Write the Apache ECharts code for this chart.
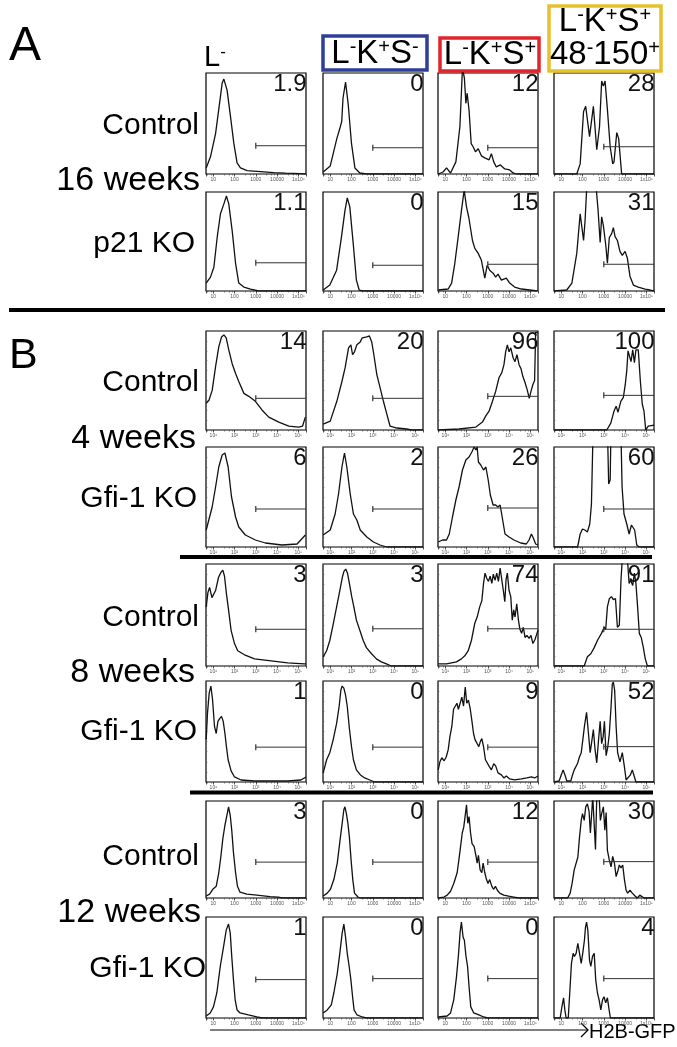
<!DOCTYPE html>
<html><head><meta charset="utf-8">
<script src="https://cdn.jsdelivr.net/npm/echarts@6/dist/echarts.min.js"></script>
<style>html,body{margin:0;padding:0;background:#fff}#c{width:677px;height:1047px}</style>
</head><body><div id="c"></div>
<script>
// ---------- tick labels (by decade exponent) ----------
const tickLabelsPlain = {1:'10', 2:'100', 3:'1000', 4:'10000', 5:'1x10⁵'};
const tickLabelsPow   = {1:'10¹', 2:'10²', 3:'10³', 4:'10⁴', 5:'10⁵'};

// ---------- column headers / row labels ----------
const columnHeaders = ['L-', 'L-K+S-', 'L-K+S+', 'L-K+S+ / 48-150+'];
const rowLabels = ['Control','16 weeks','p21 KO','Control','4 weeks','Gfi-1 KO','Control','8 weeks','Gfi-1 KO','Control','12 weeks','Gfi-1 KO'];

// ---------- percentages shown in each panel ----------
const pctA16Ctrl = ['1.9','0','12','28'];
const pctA16KO   = ['1.1','0','15','31'];
const pctB4Ctrl  = ['14','20','96','100'];
const pctB4KO    = ['6','2','26','60'];
const pctB8Ctrl  = ['3','3','74','91'];
const pctB8KO    = ['1','0','9','52'];
const pctB12Ctrl = ['3','0','12','30'];
const pctB12KO   = ['1','0','0','4'];

// ---------- gate heights (% of panel max) ----------
const gateA16Ctrl = [28,26,26,27];
const gateA16KO   = [28.5,26,27,27];
const gateB4Ctrl  = [32,32,34,35];
const gateB4KO    = [38,38,39,38];
const gateB8Ctrl  = [36,36.5,36.5,36];
const gateB8KO    = [34.5,34.5,34.5,35];
const gateB12Ctrl = [37,37,37,37.5];
const gateB12KO   = [38,39,39,39];
const gateStart = 1000;

// ---------- histograms: [log10 H2B-GFP, % of max] ----------
const hA16Ctrl_L = [[0.67,6],[0.87,17],[1.11,40],[1.26,64],[1.42,90],[1.50,94],[1.65,83],[1.81,57],[1.97,30],[2.12,11],[2.28,6],[2.59,3.3],[3.22,2.3],[3.84,1.3],[4.4,0.8],[5.09,0.3],[5.36,0]];
const hA16Ctrl_KS = [[0.67,2],[1.0,8],[1.31,35],[1.45,45],[1.54,52],[1.6,75],[1.72,91],[1.84,70],[2.0,30],[2.16,6],[2.39,1],[2.7,0],[5.36,0]];
const hA16Ctrl_LSK = [[0.67,0],[0.90,2],[1.06,6],[1.25,1],[1.50,12],[1.69,47],[1.81,105],[1.90,95],[1.97,70],[2.03,80],[2.12,63],[2.22,30],[2.31,27],[2.42,22],[2.55,25],[2.70,18],[2.86,16],[3.06,14],[3.17,20],[3.28,12],[3.40,7],[3.59,9],[3.80,5],[4.03,4],[4.19,1],[4.34,0],[5.36,0]];
const hA16Ctrl_SLAM = [[0.67,0],[1.73,0],[1.89,10],[2.05,62],[2.15,67],[2.33,37],[2.51,67],[2.67,24],[2.80,47],[2.90,92],[2.98,87],[3.06,92],[3.17,64],[3.30,27],[3.42,10],[3.48,12],[3.61,41],[3.70,35],[3.84,0],[5.36,0]];

const hA16KO_L = [[0.67,8],[0.87,14],[1.03,24],[1.19,55],[1.34,78],[1.50,88],[1.62,96],[1.73,88],[1.89,61],[2.05,28],[2.20,8],[2.44,4],[2.75,2],[3.14,0],[5.36,0]];
const hA16KO_KS = [[0.67,1],[0.98,6],[1.30,21],[1.53,55],[1.69,81],[1.80,94],[1.92,85],[2.08,48],[2.23,11],[2.36,1],[2.55,0],[5.36,0]];
const hA16KO_LSK = [[0.67,1],[1.14,2],[1.30,8],[1.45,28],[1.61,55],[1.76,81],[1.89,102],[2.00,85],[2.11,74],[2.19,72],[2.28,51],[2.39,43],[2.55,38],[2.70,31],[2.86,13],[2.97,26],[3.09,21],[3.25,18],[3.37,14],[3.48,17],[3.64,11],[3.87,13],[4.03,8],[4.26,4],[4.58,2],[4.97,1],[5.33,0]];
const hA16KO_SLAM = [[0.67,0],[1.26,1],[1.50,8],[1.73,38],[1.89,78],[1.97,80],[2.05,51],[2.12,71],[2.20,105],[2.64,105],[2.73,82],[2.83,49],[2.90,75],[2.98,66],[3.09,47],[3.17,28],[3.26,54],[3.37,58],[3.45,64],[3.53,55],[3.64,51],[3.76,40],[3.87,36],[4.00,40],[4.11,33],[4.23,15],[4.39,6],[4.62,4],[4.94,2],[5.17,1],[5.36,0]];

const hB4Ctrl_L = [[0.67,27],[0.80,30],[0.95,40],[1.11,64],[1.26,84],[1.39,94],[1.50,96],[1.61,93],[1.73,81],[1.89,67],[2.05,57],[2.20,49],[2.44,37],[2.67,34],[2.98,29],[3.30,20],[3.61,13],[4.08,8],[4.55,4],[5.02,3],[5.20,4],[5.33,13]];
const hB4Ctrl_KS = [[0.67,6],[1.0,9],[1.31,29],[1.55,49],[1.70,63],[1.86,83],[1.97,86],[2.05,76],[2.14,79],[2.25,86],[2.41,89],[2.50,93],[2.59,91],[2.72,94],[2.84,95],[2.95,89],[3.05,76],[3.19,56],[3.34,43],[3.50,29],[3.66,16],[3.81,4],[4.13,2],[4.59,1],[4.83,0],[5.36,0]];
const hB4Ctrl_LSK = [[0.67,0],[1.65,1],[2.44,3],[2.75,8],[2.90,14],[3.06,19],[3.22,29],[3.37,39],[3.53,53],[3.66,58],[3.76,66],[3.84,79],[3.92,86],[4.0,79],[4.08,83],[4.19,73],[4.28,69],[4.37,76],[4.47,66],[4.56,62],[4.65,54],[4.75,48],[4.86,40],[4.95,32],[5.03,39],[5.12,46],[5.20,50],[5.25,99],[5.36,98]];
const hB4Ctrl_SLAM = [[0.67,0],[3.14,0],[3.33,7],[3.48,19],[3.58,24],[3.67,18],[3.80,29],[3.92,33],[4.01,46],[4.08,60],[4.14,80],[4.20,81],[4.28,69],[4.36,81],[4.44,68],[4.51,81],[4.62,81],[4.72,49],[4.81,26],[4.89,19],[4.97,0],[5.09,4],[5.36,5]];

const hB4KO_L = [[0.67,17],[0.95,40],[1.11,60],[1.26,80],[1.42,92],[1.55,94],[1.70,80],[1.86,50],[2.05,30],[2.20,20],[2.51,12],[2.98,7],[3.45,4],[4.23,2],[4.94,3],[5.20,9],[5.33,12]];
const hB4KO_KS = [[0.67,12],[1.0,17],[1.23,33],[1.39,53],[1.55,80],[1.67,94],[1.78,80],[1.94,53],[2.09,33],[2.25,27],[2.41,17],[2.72,10],[3.03,5],[3.34,2],[3.66,0],[5.36,0]];
const hB4KO_LSK = [[0.67,5],[0.87,7],[1.06,7],[1.19,13],[1.34,30],[1.50,47],[1.65,60],[1.81,77],[1.97,87],[2.12,90],[2.25,95],[2.36,100],[2.44,97],[2.50,100],[2.56,85],[2.67,82],[2.80,77],[2.91,80],[3.02,67],[3.12,52],[3.25,42],[3.37,42],[3.48,40],[3.58,42],[3.66,32],[3.81,13],[4.0,10],[4.23,7],[4.55,4],[4.81,3],[4.94,7],[5.05,13],[5.14,9],[5.25,3],[5.36,2]];
const hB4KO_SLAM = [[0.67,0],[1.77,0],[1.89,13],[2.0,18],[2.11,17],[2.23,15],[2.34,23],[2.42,43],[2.50,120],[3.17,120],[3.23,63],[3.30,67],[3.34,120],[3.80,120],[3.86,60],[3.95,33],[4.08,23],[4.19,13],[4.30,22],[4.37,23],[4.45,17],[4.55,2],[4.66,0],[5.36,0]];

const hB8Ctrl_L = [[0.67,58],[0.75,72],[0.83,77],[0.94,67],[1.01,66],[1.11,74],[1.25,87],[1.37,92],[1.45,94],[1.53,88],[1.62,71],[1.72,55],[1.84,35],[2.0,22],[2.15,15],[2.47,11],[2.94,7],[3.72,5],[4.50,3],[5.28,2],[5.36,2]];
const hB8Ctrl_KS = [[0.67,9],[0.83,15],[0.98,25],[1.14,41],[1.30,58],[1.45,74],[1.58,88],[1.65,93],[1.73,95],[1.81,91],[1.90,81],[2.01,68],[2.11,58],[2.23,45],[2.39,35],[2.55,25],[2.70,18],[2.94,12],[3.17,7],[3.40,4],[3.64,2],[3.87,0],[5.36,0]];
const hB8Ctrl_LSK = [[0.67,2],[1.06,2],[1.53,4],[1.76,7],[1.92,10],[2.08,15],[2.23,25],[2.39,42],[2.50,48],[2.62,58],[2.72,64],[2.80,81],[2.87,91],[2.95,86],[3.03,83],[3.11,88],[3.19,81],[3.26,90],[3.34,84],[3.42,91],[3.50,83],[3.58,96],[3.65,97],[3.73,74],[3.80,63],[3.86,85],[3.92,91],[4.0,74],[4.08,68],[4.15,45],[4.22,55],[4.28,48],[4.36,61],[4.44,45],[4.51,36],[4.59,32],[4.67,38],[4.75,28],[4.84,30],[4.94,27],[5.03,30],[5.12,22],[5.22,26],[5.28,30],[5.36,35]];
const hB8Ctrl_SLAM = [[0.67,0],[2.08,0],[2.23,9],[2.39,12],[2.55,18],[2.70,25],[2.89,32],[3.02,38],[3.09,36],[3.17,58],[3.26,66],[3.36,68],[3.45,65],[3.55,66],[3.64,38],[3.73,40],[3.81,85],[3.87,105],[4.11,105],[4.19,81],[4.26,84],[4.36,79],[4.44,91],[4.51,81],[4.59,58],[4.67,32],[4.76,28],[4.86,18],[4.95,7],[5.05,0],[5.36,0]];

const hB8KO_L = [[0.67,42],[0.73,68],[0.81,88],[0.89,95],[0.97,81],[1.06,55],[1.14,48],[1.22,60],[1.31,63],[1.39,65],[1.47,60],[1.55,48],[1.62,35],[1.70,22],[1.84,11],[2.0,5],[2.31,2],[2.94,1],[4.50,1],[5.12,2],[5.28,4],[5.36,5]];
const hB8KO_KS = [[0.67,9],[0.83,22],[0.98,29],[1.14,42],[1.30,58],[1.42,75],[1.50,91],[1.56,95],[1.64,93],[1.72,86],[1.80,75],[1.90,53],[2.0,35],[2.09,22],[2.23,12],[2.42,7],[2.62,4],[2.86,2],[3.09,0],[5.36,0]];
const hB8KO_LSK = [[0.67,12],[0.75,20],[0.84,24],[0.95,21],[1.05,25],[1.14,32],[1.22,45],[1.31,55],[1.39,72],[1.47,75],[1.55,78],[1.62,72],[1.70,78],[1.78,84],[1.86,75],[1.94,94],[2.01,78],[2.09,81],[2.17,73],[2.25,61],[2.33,48],[2.40,42],[2.50,38],[2.58,35],[2.65,40],[2.72,43],[2.80,35],[2.89,22],[2.98,21],[3.08,15],[3.17,12],[3.28,18],[3.37,16],[3.48,9],[3.64,7],[3.76,4],[3.87,6],[4.03,3],[4.26,2],[4.58,3],[4.84,4],[5.05,5],[5.20,4],[5.36,6]];
const hB8KO_SLAM = [[0.67,0],[0.90,1],[1.0,7],[1.09,12],[1.19,6],[1.26,1],[1.45,1],[1.53,7],[1.61,12],[1.69,11],[1.76,18],[1.86,25],[1.94,29],[2.01,41],[2.09,55],[2.19,69],[2.28,48],[2.36,29],[2.44,41],[2.51,52],[2.59,32],[2.67,19],[2.75,41],[2.83,60],[2.90,38],[2.97,45],[3.03,60],[3.11,26],[3.19,35],[3.26,48],[3.34,74],[3.40,97],[3.45,99],[3.51,91],[3.58,55],[3.65,29],[3.76,20],[3.87,29],[3.97,15],[4.05,2],[4.14,1],[4.25,7],[4.34,12],[4.44,5],[4.51,0],[5.36,0]];

const hB12Ctrl_L = [[0.67,2],[0.83,4],[0.98,9],[1.14,12],[1.26,26],[1.36,43],[1.45,61],[1.55,75],[1.64,85],[1.72,94],[1.80,85],[1.87,70],[1.95,47],[2.05,26],[2.14,12],[2.26,6],[2.58,4],[3.05,3],[3.67,1.5],[4.06,1],[4.22,0],[5.36,0]];
const hB12Ctrl_KS = [[0.67,2],[0.86,5],[1.01,9],[1.17,19],[1.33,36],[1.48,63],[1.56,77],[1.64,91],[1.69,94],[1.76,87],[1.83,77],[1.90,63],[1.98,39],[2.06,19],[2.14,5],[2.30,1],[2.42,0],[5.36,0]];
const hB12Ctrl_LSK = [[0.67,0],[0.94,1],[1.09,3],[1.25,7],[1.40,15],[1.56,26],[1.64,39],[1.72,53],[1.80,67],[1.87,73],[1.95,87],[2.0,96],[2.06,77],[2.12,84],[2.19,67],[2.26,56],[2.36,53],[2.44,44],[2.50,36],[2.56,44],[2.64,29],[2.72,26],[2.78,36],[2.86,26],[2.94,19],[3.01,15],[3.09,19],[3.19,12],[3.28,9],[3.36,12],[3.45,8],[3.56,5],[3.75,3],[3.98,2],[4.22,1],[4.45,0],[5.36,0]];
const hB12Ctrl_SLAM = [[0.67,0],[1.30,0],[1.42,5],[1.51,15],[1.61,29],[1.70,31],[1.78,42],[1.86,63],[1.94,80],[2.0,87],[2.08,80],[2.15,94],[2.23,97],[2.31,89],[2.37,67],[2.44,90],[2.48,105],[2.56,105],[2.61,50],[2.67,105],[2.78,105],[2.84,80],[2.90,87],[2.98,94],[3.05,70],[3.11,88],[3.17,49],[3.26,39],[3.34,32],[3.42,43],[3.50,36],[3.58,22],[3.65,27],[3.73,34],[3.81,31],[3.89,34],[3.97,19],[4.05,8],[4.12,5],[4.23,8],[4.34,5],[4.47,2],[4.58,0],[4.69,3],[4.78,2],[4.89,0],[5.36,0]];

const hB12KO_L = [[0.67,2],[0.86,5],[1.01,11],[1.17,25],[1.33,51],[1.48,70],[1.61,87],[1.72,93],[1.80,84],[1.87,61],[1.95,38],[2.03,18],[2.12,8],[2.26,5],[2.65,3],[3.05,1],[3.3,0],[5.36,0]];
const hB12KO_KS = [[0.67,5],[0.86,8],[1.05,13],[1.17,25],[1.33,44],[1.45,64],[1.56,84],[1.64,93],[1.72,80],[1.80,64],[1.89,51],[1.97,38],[2.05,21],[2.12,8],[2.26,3],[2.50,1],[2.7,0],[5.36,0]];
const hB12KO_LSK = [[0.67,1],[1.09,2],[1.25,5],[1.40,18],[1.53,41],[1.62,62],[1.70,85],[1.76,95],[1.84,80],[1.90,77],[1.97,62],[2.05,51],[2.12,31],[2.20,11],[2.34,5],[2.58,3],[2.81,1],[3.0,0],[5.36,0]];
const hB12KO_SLAM = [[0.67,0],[0.95,0],[1.03,11],[1.11,20],[1.17,8],[1.23,0],[1.33,0],[1.40,25],[1.48,54],[1.56,64],[1.62,61],[1.70,64],[1.78,74],[1.86,64],[1.94,54],[2.01,64],[2.09,77],[2.14,90],[2.19,95],[2.25,87],[2.33,57],[2.39,51],[2.47,61],[2.55,64],[2.62,38],[2.70,25],[2.78,18],[2.86,8],[2.94,18],[3.01,21],[3.09,15],[3.17,20],[3.25,8],[3.31,0],[5.36,0]];

// rows of the grid
const panelRows = [
  {curves:[hA16Ctrl_L,hA16Ctrl_KS,hA16Ctrl_LSK,hA16Ctrl_SLAM], pct:pctA16Ctrl, gate:gateA16Ctrl, ticks:tickLabelsPlain},
  {curves:[hA16KO_L,hA16KO_KS,hA16KO_LSK,hA16KO_SLAM], pct:pctA16KO, gate:gateA16KO, ticks:tickLabelsPlain},
  {curves:[hB4Ctrl_L,hB4Ctrl_KS,hB4Ctrl_LSK,hB4Ctrl_SLAM], pct:pctB4Ctrl, gate:gateB4Ctrl, ticks:tickLabelsPow},
  {curves:[hB4KO_L,hB4KO_KS,hB4KO_LSK,hB4KO_SLAM], pct:pctB4KO, gate:gateB4KO, ticks:tickLabelsPow},
  {curves:[hB8Ctrl_L,hB8Ctrl_KS,hB8Ctrl_LSK,hB8Ctrl_SLAM], pct:pctB8Ctrl, gate:gateB8Ctrl, ticks:tickLabelsPow},
  {curves:[hB8KO_L,hB8KO_KS,hB8KO_LSK,hB8KO_SLAM], pct:pctB8KO, gate:gateB8KO, ticks:tickLabelsPow},
  {curves:[hB12Ctrl_L,hB12Ctrl_KS,hB12Ctrl_LSK,hB12Ctrl_SLAM], pct:pctB12Ctrl, gate:gateB12Ctrl, ticks:tickLabelsPlain},
  {curves:[hB12KO_L,hB12KO_KS,hB12KO_LSK,hB12KO_SLAM], pct:pctB12KO, gate:gateB12KO, ticks:tickLabelsPlain}
];

// ---------- layout ----------
const FONT = '"Liberation Sans", Arial, Helvetica, sans-serif';
const colLeft = [206, 323, 438, 554];
const colW = 100;
const rowTop = [73, 192, 331, 447, 564, 681, 801, 917];
const rowBot = [174, 291, 430, 547, 666, 782, 898, 1018];
const xMin = Math.pow(10, 0.66), xMax = Math.pow(10, 5.36);

const grids = [], xAxes = [], yAxes = [], series = [], graphics = [];
let idx = 0;
panelRows.forEach((row, r) => {
  for (let c = 0; c < 4; c++) {
    const top = rowTop[r], h = rowBot[r] - rowTop[r];
    grids.push({left: colLeft[c], top: top, width: colW, height: h, show: true,
      borderColor: '#000', borderWidth: 1.2, backgroundColor: '#fff'});
    const ticks = row.ticks;
    xAxes.push({type: 'log', logBase: 10, gridIndex: idx, min: xMin, max: xMax,
      axisLine: {show: false}, splitLine: {show: false},
      axisTick: {show: true, length: 2.5, lineStyle: {color: '#222', width: 0.8}},
      minorTick: {show: true, splitNumber: 4, length: 1.5, lineStyle: {color: '#444', width: 0.6}},
      axisLabel: {show: true, fontSize: 5, color: '#555', margin: 3, fontFamily: FONT,
        formatter: v => { const e = Math.log10(v); const re = Math.round(e);
          return Math.abs(e - re) < 0.02 ? (ticks[re] || '') : ''; }}});
    const tickY = (r >= 2 && r <= 5);
    yAxes.push({type: 'value', gridIndex: idx, min: 0, max: 100, interval: 10,
      axisLine: {show: false}, splitLine: {show: false}, axisLabel: {show: false},
      axisTick: {show: tickY, inside: true, length: 1.5, lineStyle: {color: '#666', width: 0.6}}});
    series.push({type: 'line', xAxisIndex: idx, yAxisIndex: idx, symbol: 'none', silent: true,
      clip: true, animation: false,
      lineStyle: {color: '#111', width: 1.3},
      data: row.curves[c].map(p => [Math.pow(10, p[0]), p[1]])});
    const g = row.gate[c];
    series.push({type: 'line', xAxisIndex: idx, yAxisIndex: idx, silent: true, animation: false,
      showSymbol: true, clip: false,
      lineStyle: {color: '#333', width: 1}, itemStyle: {color: '#333'},
      data: [{value: [gateStart, g], symbol: 'rect', symbolSize: [1.2, 6]},
             {value: [xMax, g], symbol: 'none'}]});
    graphics.push({type: 'text', z: 100, style: {text: row.pct[c], x: colLeft[c] + colW + 0.5, y: top - 1,
      align: 'right', textAlign: 'right', verticalAlign: 'top', textVerticalAlign: 'top',
      fontSize: 24, fontFamily: FONT, fill: '#111'}});
    idx++;
  }
});

// panel letters
graphics.push({type: 'text', style: {text: 'A', x: 9, y: 47, verticalAlign: 'middle', textVerticalAlign: 'middle', fontSize: 48, fontFamily: FONT, fill: '#000'}});
graphics.push({type: 'text', style: {text: 'B', x: 9, y: 356, verticalAlign: 'middle', textVerticalAlign: 'middle', fontSize: 43, fontFamily: FONT, fill: '#000'}});

// row labels
const rowLabelY = [126, 181, 244, 383, 439, 499, 618, 673, 732, 857, 913, 969];
const rowLabelRight = [199, 200, 195, 199, 196, 197, 199, 195, 197, 199, 201, 206];
rowLabels.forEach((t, i) => {
  const big = /weeks/.test(t);
  graphics.push({type: 'text', style: {text: t, x: rowLabelRight[i], y: rowLabelY[i],
    align: 'right', textAlign: 'right', verticalAlign: 'middle', textVerticalAlign: 'middle',
    fontSize: big ? 34 : 30, fontFamily: FONT, fill: '#000'}});
});

// column headers (with superscripts)
const richStyle = (m, s) => ({m: {fontSize: m, fontFamily: FONT, fill: '#000'}, s: {fontSize: s, fontFamily: FONT, fill: '#000', verticalAlign: 'top'}});
function sup(str) {
  return str.replace(/([A-Z0-9]+)([-+])/g, (a, b, c) => '{m|' + b + '}{s|' + c + '}');
}
graphics.push({type: 'text', style: {text: sup(columnHeaders[0]), x: 204, y: 58, verticalAlign: 'middle', textVerticalAlign: 'middle', rich: richStyle(29, 17)}});
// boxes
graphics.push({type: 'rect', shape: {x: 323, y: 36, width: 104, height: 34}, style: {fill: 'none', stroke: '#2f3f98', lineWidth: 3.5}});
graphics.push({type: 'rect', shape: {x: 440, y: 38, width: 99, height: 33}, style: {fill: 'none', stroke: '#e2242b', lineWidth: 3.5}});
graphics.push({type: 'rect', shape: {x: 549, y: 6, width: 112, height: 65}, style: {fill: 'none', stroke: '#e6c12c', lineWidth: 3.5}});
graphics.push({type: 'text', style: {text: sup(columnHeaders[1]), x: 375, y: 54, align: 'center', textAlign: 'center', verticalAlign: 'middle', textVerticalAlign: 'middle', rich: richStyle(33, 20)}});
graphics.push({type: 'text', style: {text: sup(columnHeaders[2]), x: 490, y: 55, align: 'center', textAlign: 'center', verticalAlign: 'middle', textVerticalAlign: 'middle', rich: richStyle(33, 20)}});
const yl = columnHeaders[3].split(' / ');
graphics.push({type: 'text', style: {text: sup(yl[0]), x: 605, y: 22, align: 'center', textAlign: 'center', verticalAlign: 'middle', textVerticalAlign: 'middle', rich: richStyle(33, 20)}});
graphics.push({type: 'text', style: {text: sup(yl[1]), x: 605, y: 55, align: 'center', textAlign: 'center', verticalAlign: 'middle', textVerticalAlign: 'middle', rich: richStyle(33, 20)}});

// separators
graphics.push({type: 'line', shape: {x1: 9, y1: 310, x2: 665, y2: 310}, style: {stroke: '#000', lineWidth: 4}});
graphics.push({type: 'line', shape: {x1: 180, y1: 557, x2: 652, y2: 557}, style: {stroke: '#000', lineWidth: 4}});
graphics.push({type: 'line', shape: {x1: 190, y1: 792.5, x2: 653, y2: 792.5}, style: {stroke: '#000', lineWidth: 4}});

// H2B-GFP arrow
graphics.push({type: 'line', shape: {x1: 210, y1: 1030, x2: 588, y2: 1030}, style: {stroke: '#000', lineWidth: 1}});
graphics.push({type: 'polyline', shape: {points: [[581, 1023], [588, 1030], [581, 1037]]}, style: {stroke: '#000', lineWidth: 1.3, fill: 'none'}});
graphics.push({type: 'text', style: {text: 'H2B-GFP', x: 589, y: 1032, verticalAlign: 'middle', textVerticalAlign: 'middle', fontSize: 20, fontFamily: FONT, fill: '#000'}});

const chart = echarts.init(document.getElementById('c'), null, {renderer: 'canvas'});
chart.setOption({
  backgroundColor: '#fff',
  animation: false,
  grid: grids, xAxis: xAxes, yAxis: yAxes, series: series,
  graphic: {elements: graphics}
});
</script>
</body></html>
